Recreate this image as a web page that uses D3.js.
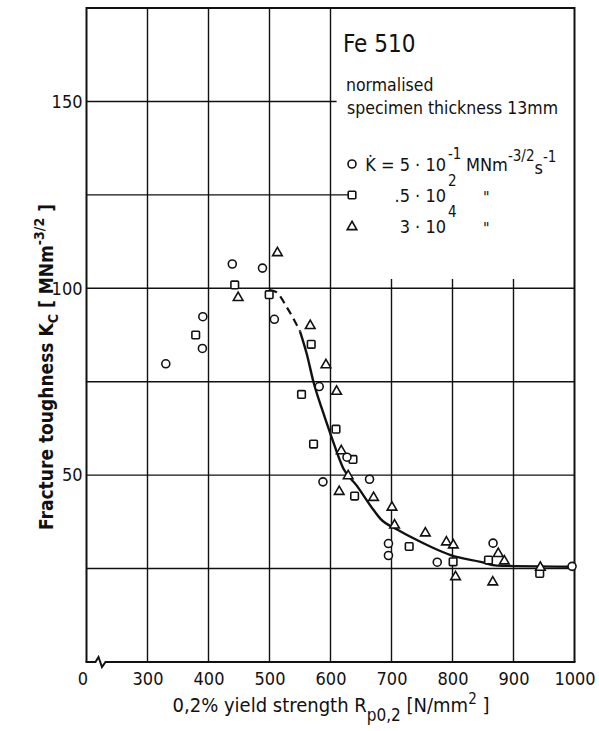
<!DOCTYPE html>
<html lang="en">
<head>
  <meta charset="UTF-8">
  <title>Fe 510 fracture toughness</title>
  <script src="https://d3js.org/d3.v7.min.js"></script>
  <style>
    body { margin: 0; background: #fff; }
    svg text {
      font-family: "DejaVu Sans Condensed", "Liberation Sans Narrow", "DejaVu Sans", sans-serif;
      font-stretch: condensed;
      fill: #111;
    }
    .grid { stroke: #111; stroke-width: 1.4px; }
    .frame { stroke: #111; stroke-width: 2px; fill: none; }
    .mark { fill: #fff; stroke: #111; stroke-width: 1.6px; }
  </style>
</head>
<body>
  <svg id="chart" width="599" height="731"></svg>
  <script>
    // values: [yield strength N/mm2, Kc MNm^-3/2]
    const circlePts = [[330, 79.8], [390, 83.9], [390.7, 92.4], [439, 106.5], [488.5, 105.4], [508, 91.7],
      [581.5, 73.7], [627, 54.8], [587.6, 48.2], [664, 48.9], [695, 31.7], [695, 28.5], [775, 26.7],
      [866.5, 31.8], [996, 25.6]];
    const squarePts = [[379, 87.5], [443, 100.9], [499.5, 98.3], [568.4, 85], [552.5, 71.6], [609, 62.3],
      [572.2, 58.3], [636.8, 54.2], [639.5, 44.4], [729, 30.9], [801, 26.8], [859, 27.3], [943, 23.7]];
    const trianglePts = [[448.6, 97.7], [513, 109.7], [566.8, 90.2], [592.5, 79.7], [610, 72.6], [617.6, 56.7],
      [629, 50], [614.3, 45.8], [670.6, 44.2], [700.8, 41.6], [705, 36.8], [755.5, 34.7], [790, 32.3],
      [801.4, 31.5], [805, 23], [875, 29.2], [885, 27.2], [866, 21.6], [944, 25.5]];
    const dashedCurve = [[500, 99.5], [510, 99.1], [530, 94.5], [550, 88.5]];
    const solidCurve = [[550, 88.5], [561, 82.5], [572, 75], [586, 67.7], [600, 61], [621, 51.8], [643, 47.2],
      [670, 40.8], [682, 38.3], [710, 35.4], [736, 33.1], [766, 30.7], [797, 28.6], [846, 26.8],
      [873, 25.8], [1000, 25.5]];

    const xTicks = [200, 300, 400, 500, 600, 700, 800, 900, 1000];
    const xTickText = ["0", "300", "400", "500", "600", "700", "800", "900", "1000"];
    const yTicks = [50, 100, 150];
    const yGrid = [25, 50, 75, 100, 125, 150];

    const svg = d3.select("#chart");
    const x = d3.scaleLinear().domain([200, 1000]).range([86.5, 574.5]);
    const y = d3.scaleLinear().domain([0, 175]).range([662, 8]);

    // grid -- upper right corner is left open for the legend text
    const legendX = 600, legendBottom = 102.5;
    const g = svg.append("g");
    [300, 400, 500, 600, 700, 800, 900].forEach(v => {
      g.append("line").attr("class", "grid")
        .attr("x1", x(v)).attr("x2", x(v))
        .attr("y1", y(0)).attr("y2", v > legendX ? y(legendBottom) : y(175));
    });
    yGrid.forEach(v => {
      let x2 = x(1000);
      if (v > legendBottom) x2 = v === 125 ? x(640) : x(610);
      g.append("line").attr("class", "grid")
        .attr("x1", x(200)).attr("x2", x2)
        .attr("y1", y(v)).attr("y2", y(v));
    });

    // frame, with the axis break near the origin
    const x0 = x(200), x1 = x(1000), yb = y(0), yt0 = y(175);
    g.append("path").attr("class", "frame")
      .attr("d", `M${x0},${yb} L${x0},${yt0} L${x1},${yt0} L${x1},${yb}`);
    g.append("path").attr("class", "frame")
      .attr("d", `M${x0 - 1},${yb} L${x0 + 9},${yb} L${x0 + 12},${yb - 5} L${x0 + 15.5},${yb + 5}`
        + ` L${x0 + 19},${yb} L${x1 + 1},${yb}`);

    // axes (labels only)
    const xAxis = svg.append("g").attr("transform", `translate(0,${y(0)})`)
      .call(d3.axisBottom(x).tickValues(xTicks).tickSize(0).tickPadding(10)
        .tickFormat((d, i) => xTickText[i]));
    xAxis.select(".domain").remove();
    xAxis.selectAll("text").style("font-size", "18px")
      .attr("dx", d => d === 200 ? -4 : 0);

    const yAxis = svg.append("g").attr("transform", `translate(${x(200) - 3},0)`)
      .call(d3.axisLeft(y).tickValues(yTicks).tickSize(0).tickPadding(1));
    yAxis.select(".domain").remove();
    yAxis.selectAll("text").style("font-size", "18px");

    // axis titles
    const xt = svg.append("text").attr("x", 331).attr("y", 712)
      .attr("text-anchor", "middle").style("font-size", "20px");
    xt.append("tspan").text("0,2% yield strength R");
    xt.append("tspan").attr("dy", 9).style("font-size", "17px").text("p0,2");
    xt.append("tspan").attr("dy", -9).text(" [N/mm");
    xt.append("tspan").attr("dy", -8).style("font-size", "15px").text("2");
    xt.append("tspan").attr("dy", 8).text(" ]");

    const yt = svg.append("text").attr("transform", "translate(53,367) rotate(-90)")
      .attr("text-anchor", "middle").style("font-size", "19px").style("font-weight", "bold");
    yt.append("tspan").text("Fracture toughness K");
    yt.append("tspan").attr("dy", 5).style("font-size", "14px").text("C");
    yt.append("tspan").attr("dy", -5).text(" [ MNm");
    yt.append("tspan").attr("dy", -9).style("font-size", "14px").text("-3/2");
    yt.append("tspan").attr("dy", 9).text(" ]");

    // curve
    const line = d3.line().x(d => x(d[0])).y(d => y(d[1])).curve(d3.curveMonotoneX);
    svg.append("path").attr("d", line(dashedCurve)).attr("fill", "none")
      .attr("stroke", "#111").attr("stroke-width", 2.2).attr("stroke-dasharray", "8,5");
    svg.append("path").attr("d", line(solidCurve)).attr("fill", "none")
      .attr("stroke", "#111").attr("stroke-width", 2.4);

    // markers
    const tri = d3.symbol().type(d3.symbolTriangle).size(40);
    const drawCircle = (sel, cx, cy) => sel.append("circle").attr("class", "mark")
      .attr("cx", cx).attr("cy", cy).attr("r", 4);
    const drawSquare = (sel, cx, cy) => sel.append("rect").attr("class", "mark")
      .attr("x", cx - 3.8).attr("y", cy - 3.8).attr("width", 7.6).attr("height", 7.6).attr("rx", 1);
    const drawTri = (sel, cx, cy) => sel.append("path").attr("class", "mark")
      .attr("transform", `translate(${cx},${cy + 0.8})`).attr("d", tri());

    const pts = svg.append("g");
    squarePts.forEach(d => drawSquare(pts, x(d[0]), y(d[1])));
    trianglePts.forEach(d => drawTri(pts, x(d[0]), y(d[1])));
    circlePts.forEach(d => drawCircle(pts, x(d[0]), y(d[1])));

    // legend text block
    const lg = svg.append("g");
    lg.append("text").attr("x", 343).attr("y", 52).style("font-size", "24px").text("Fe 510");
    lg.append("text").attr("x", 346).attr("y", 91).style("font-size", "17.5px").text("normalised");
    lg.append("text").attr("x", 347).attr("y", 114).style("font-size", "17.5px").text("specimen thickness  13mm");

    const rows = [
      { y: 164, mark: drawCircle, lead: "K\u0307 = 5 \u00b7 10", sup: "-1" },
      { y: 195, mark: drawSquare, lead: ".5 \u00b7 10", sup: "2" },
      { y: 226, mark: drawTri, lead: "3 \u00b7 10", sup: "4" }
    ];
    rows.forEach((r, i) => {
      r.mark(lg, 352, r.y);
      lg.append("text").attr("x", 446).attr("y", r.y + 7).attr("text-anchor", "end")
        .style("font-size", "18px").text(r.lead);
      lg.append("text").attr("x", 448).attr("y", r.y - 5 - (i ? 4 : 0))
        .style("font-size", "15px").text(r.sup);
      if (i) lg.append("text").attr("x", 483).attr("y", r.y + 8).style("font-size", "16px").text("\"");
    });
    const unit = lg.append("text").attr("x", 466).attr("y", 171).style("font-size", "18px");
    unit.append("tspan").text("MNm");
    unit.append("tspan").attr("dy", -10).style("font-size", "15px").text("-3/2");
    unit.append("tspan").attr("dy", 13).text("s");
    unit.append("tspan").attr("dy", -12).style("font-size", "15px").text("-1");
  </script>
</body>
</html>
